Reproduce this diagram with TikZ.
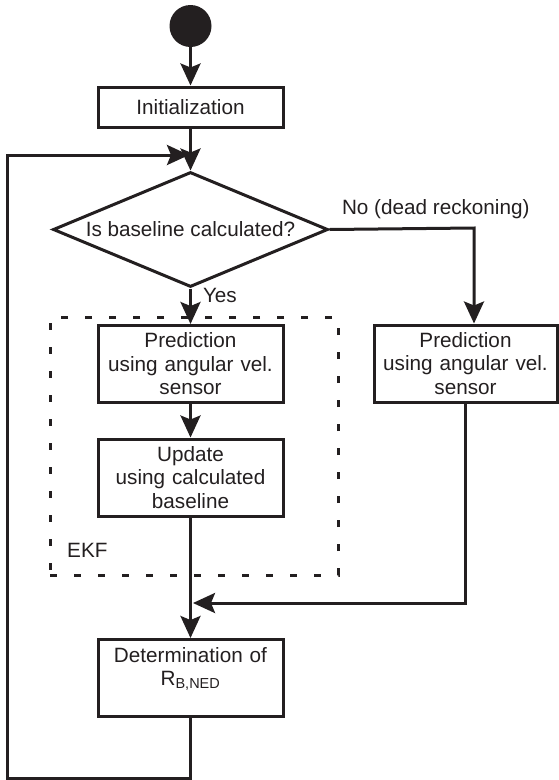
\documentclass[tikz,border=0pt]{standalone}
\usepackage{fontspec}
\setmainfont{Liberation Sans}
\usepackage{tikz}
\usetikzlibrary{shapes.geometric, arrows.meta, positioning, calc}
\definecolor{mydark}{RGB}{35,31,32}
\tikzset{
  block/.style={rectangle, draw=mydark, text=mydark,
    text width=178pt, align=center, minimum width=185pt, minimum height=77pt,
    font=\fontsize{20.7}{23.5}\selectfont, inner sep=0pt, line width=3pt},
  initblock/.style={block, minimum height=40pt},
  decision/.style={diamond, draw=mydark, text=mydark, aspect=2.4,
    minimum width=275pt, minimum height=115pt, inner sep=0pt,
    font=\fontsize{20.7}{23.5}\selectfont, line width=3pt},
  startdot/.style={circle, fill=mydark, minimum size=42pt, inner sep=0pt},
  ekfbox/.style={rectangle, draw=mydark, line width=3pt,
    dash pattern=on 7pt off 17pt, minimum width=288pt, minimum height=258pt},
  lbl/.style={text=mydark, inner sep=0pt, font=\fontsize{20.7}{23.5}\selectfont},
  arrow/.style={-{Stealth[length=22pt, width=20pt, inset=4pt]}, line width=3pt, color=mydark},
  line/.style={line width=3pt, color=mydark}
}

\begin{document}
\begin{tikzpicture}[x=1pt, y=-1pt]
  \useasboundingbox (0,0) rectangle (558,780);

  \node[startdot] (start) at (190.5,26) {};
  \node[initblock] (init) at (190.5,107) {Initialization};
  \node[decision] (dec) at (190.5,229.5) {Is baseline calculated?};
  \node[ekfbox] (ekf) at (194,446) {};
  \node[block] (pred1) at (190.5,364) {Prediction\\using angular vel.\\sensor};
  \node[block] (update) at (190.5,477.5) {Update\\using calculated\\baseline};
  \node[block, minimum width=183pt] (pred2) at (465.5,363.5) {Prediction\\using angular vel.\\sensor};
  \node[block] (det) at (190.5,678) {Determination of\\R\textsubscript{B,NED}\\\mbox{}};
  \node[lbl, anchor=base west] (ekflbl) at (67,557) {EKF};

  \coordinate (noturn) at (474,228);
  \coordinate (merge) at (193,603);
  \coordinate (loopbl) at (7,778);
  \coordinate (loopin) at (189,155);

  \draw[arrow] (start) -- (init);
  \draw[arrow] (init) -- (dec);
  \draw[arrow] (dec) -- node[lbl, anchor=west, pos=0.2, xshift=11pt] {Yes} (pred1);
  \draw[arrow] (dec.east) -- node[lbl, anchor=base west, pos=0, xshift=11pt, yshift=15pt] {No (dead reckoning)} (noturn) -- (noturn |- pred2.north);
  \draw[arrow] (pred1) -- (update);
  \draw[arrow] (update) -- (det);
  \draw[arrow] (pred2.south) |- (merge);
  \draw[arrow] (det.south) |- (loopbl) |- (loopin);
\end{tikzpicture}
\end{document}
